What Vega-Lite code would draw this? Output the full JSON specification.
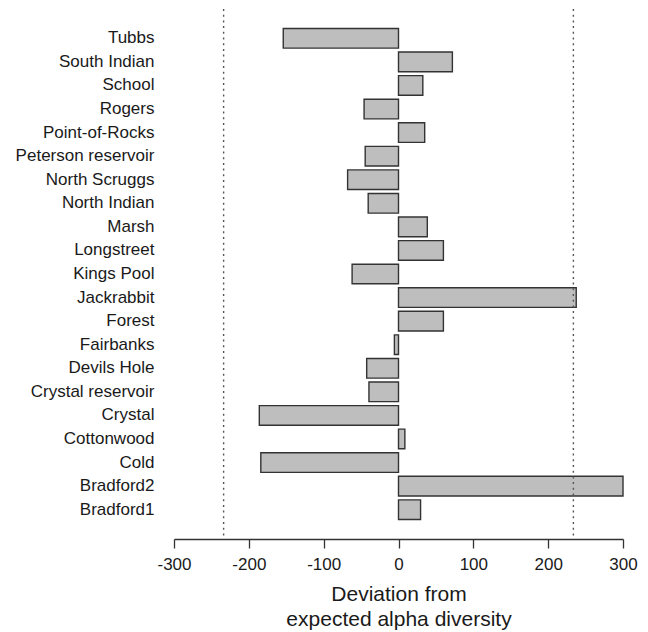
{
  "$schema": "https://vega.github.io/schema/vega-lite/v6.json",
  "width": 449,
  "height": 530,
  "padding": {"left": 5, "top": 8, "right": 5, "bottom": 2},
  "background": "white",
  "config": {
    "view": {"stroke": null},
    "font": "Liberation Sans"
  },
  "layer": [
    {
      "data": {
        "values": [
          {"site": "Tubbs", "deviation": -154},
          {"site": "South Indian", "deviation": 72},
          {"site": "School", "deviation": 32.5},
          {"site": "Rogers", "deviation": -46},
          {"site": "Point-of-Rocks", "deviation": 35},
          {"site": "Peterson reservoir", "deviation": -44.5},
          {"site": "North Scruggs", "deviation": -68},
          {"site": "North Indian", "deviation": -40.5},
          {"site": "Marsh", "deviation": 38.5},
          {"site": "Longstreet", "deviation": 60},
          {"site": "Kings Pool", "deviation": -62},
          {"site": "Jackrabbit", "deviation": 237.5},
          {"site": "Forest", "deviation": 60},
          {"site": "Fairbanks", "deviation": -5.5},
          {"site": "Devils Hole", "deviation": -42.5},
          {"site": "Crystal reservoir", "deviation": -39.5},
          {"site": "Crystal", "deviation": -186},
          {"site": "Cottonwood", "deviation": 8.5},
          {"site": "Cold", "deviation": -184},
          {"site": "Bradford2", "deviation": 300},
          {"site": "Bradford1", "deviation": 29.5}
        ]
      },
      "mark": {"type": "bar", "fill": "#bebebe", "stroke": "#333333", "strokeWidth": 1.4},
      "encoding": {
        "y": {
          "field": "site",
          "type": "nominal",
          "sort": null,
          "scale": {"paddingInner": 0.167, "paddingOuter": 0.827},
          "axis": {
            "title": null,
            "domain": false,
            "ticks": false,
            "labelFontSize": 17,
            "labelColor": "#1a1a1a",
            "labelPadding": 20,
            "minExtent": 169,
            "maxExtent": 169
          }
        },
        "x": {
          "field": "deviation",
          "type": "quantitative",
          "scale": {"domain": [-300, 300], "nice": false, "zero": false},
          "axis": {
            "title": ["Deviation from", "expected alpha diversity"],
            "titleFontSize": 21,
            "titleFontWeight": "normal",
            "titleColor": "#1a1a1a",
            "titleLineHeight": 25,
            "titlePadding": 11,
            "values": [-300, -200, -100, 0, 100, 200, 300],
            "labelExpr": "'' + datum.value",
            "grid": false,
            "domainColor": "#333333",
            "domainWidth": 1.3,
            "tickColor": "#333333",
            "tickWidth": 1.3,
            "tickSize": 9,
            "labelFontSize": 17,
            "labelColor": "#1a1a1a",
            "labelPadding": 8,
            "labelFlush": false
          }
        }
      }
    },
    {
      "data": {"values": [{"v": -233.7}, {"v": 233.7}]},
      "mark": {"type": "rule", "stroke": "#555555", "strokeWidth": 1.4, "strokeDash": [2, 3.7]},
      "encoding": {
        "x": {"field": "v", "type": "quantitative"}
      }
    }
  ]
}
